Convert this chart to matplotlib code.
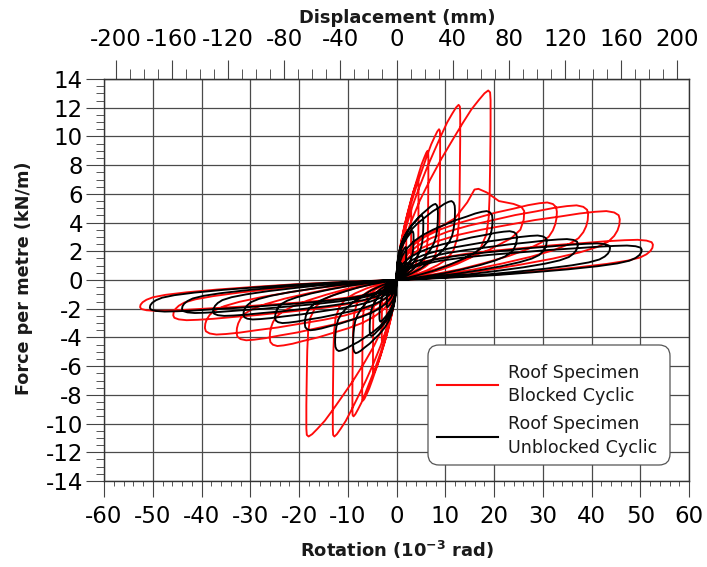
import numpy as np
import matplotlib
matplotlib.use('Agg')
import matplotlib.pyplot as plt
from matplotlib.lines import Line2D
from matplotlib.patches import FancyBboxPatch
from matplotlib.transforms import IdentityTransform
from matplotlib.ticker import MultipleLocator

plt.rcParams['font.family'] = ['DejaVu Sans']
plt.rcParams['axes.unicode_minus'] = False

# ---------------- data ----------------
# Red: Roof Specimen Blocked Cyclic  (cycle peaks, 10^-3 rad and kN/m)
red_pos_rot = [1.2, 2.0, 3.0, 4.5, 6.5, 8.9, 13.0, 19.2, 26.0, 32.9, 39.3, 45.8, 52.6]
red_pos_force = [2.2, 3.5, 5.0, 7.0, 9.0, 10.5, 12.2, 13.2, 6.4, 5.4, 5.2, 4.8, 2.8]
red_neg_rot = [-1.2, -2.0, -3.0, -4.8, -7.0, -9.0, -13.0, -18.4, -26.0, -32.8, -39.3, -45.8, -52.6]
red_neg_force = [-1.8, -3.0, -4.3, -6.5, -8.4, -9.5, -10.9, -10.9, -4.6, -4.2, -3.8, -2.8, -2.15]
red_shape = ['A', 'A', 'A', 'A', 'A', 'A', 'A', 'A', 'C', 'B', 'B', 'B', 'B']

# first post-peak red excursion (explicit trace)
red_c9_rot = [0, 1.5, 4, 8, 12, 14.5, 16.0, 16.8, 18.5, 21, 24, 25.6, 26.2, 26.1, 25.4, 23.5, 19, 13, 7, 2.5, 0]
red_c9_force = [0.05, 1.6, 2.7, 3.5, 4.3, 5.4, 6.3, 6.35, 6.1, 5.5, 5.3, 5.1, 4.8, 4.2, 3.5, 2.9, 2.1, 1.3, 0.65, 0.2, 0]

# Black: Roof Specimen Unblocked Cyclic
black_pos_rot = [1.0, 2.0, 3.5, 5.5, 8.5, 12.0, 19.7, 24.7, 30.8, 37.2, 43.8, 50.3]
black_pos_force = [1.2, 2.3, 3.4, 4.5, 5.3, 5.5, 4.8, 3.4, 3.1, 2.85, 2.55, 2.4]
black_neg_rot = [-1.0, -2.0, -3.5, -5.5, -8.9, -12.6, -18.8, -24.9, -31.4, -37.6, -44.0, -50.6]
black_neg_force = [-1.0, -1.9, -2.9, -3.9, -5.1, -4.95, -3.5, -3.0, -2.75, -2.5, -2.3, -2.2]

# loop shapes (fraction of peak rotation / force)
shapeA_u = [0, 0.03, 0.08, 0.15, 0.25, 0.36, 0.48, 0.6, 0.71, 0.8, 0.88, 0.94, 0.98, 1.0, 1.005,
            1.005, 1.0, 0.995, 0.985, 0.96, 0.9, 0.8, 0.65, 0.48, 0.3, 0.14, 0.04, 0.0]
shapeA_v = [0.02, 0.09, 0.2, 0.3, 0.42, 0.53, 0.64, 0.74, 0.83, 0.9, 0.95, 0.985, 1.0, 0.99, 0.95,
            0.8, 0.6, 0.45, 0.33, 0.24, 0.17, 0.12, 0.085, 0.055, 0.03, 0.015, 0.004, 0.0]
shapeB_u = [0, 0.01, 0.03, 0.06, 0.11, 0.18, 0.27, 0.38, 0.5, 0.62, 0.73, 0.82, 0.89, 0.94, 0.975, 0.995, 1.0,
            0.998, 0.99, 0.975, 0.95, 0.9, 0.82, 0.7, 0.55, 0.4, 0.25, 0.12, 0.04, 0.0]
shapeB_v = [0.03, 0.12, 0.24, 0.35, 0.46, 0.56, 0.65, 0.73, 0.8, 0.87, 0.92, 0.965, 0.99, 1.0, 0.98, 0.94, 0.88,
            0.8, 0.72, 0.64, 0.56, 0.48, 0.4, 0.31, 0.22, 0.14, 0.08, 0.035, 0.01, 0.0]

rot_ticks = list(range(-60, 61, 10))
force_ticks = list(range(-14, 15, 2))
disp_ticks = list(range(-200, 201, 40))
mm_per_mrad = 3.47


def half(rpk, fpk, shape):
    if shape == 'A':
        u, v = shapeA_u, shapeA_v
    else:
        u, v = shapeB_u, shapeB_v
    return [rpk * a for a in u], [fpk * b for b in v]


def trace(pos_r, pos_f, neg_r, neg_f, shapes):
    xs, ys = [0.0], [0.0]
    for i in range(len(pos_r)):
        s = shapes[i] if shapes is not None else 'B'
        if s == 'C':
            xs += red_c9_rot
            ys += red_c9_force
        else:
            a, b = half(pos_r[i], pos_f[i], s)
            xs += a
            ys += b
        s2 = 'A' if s == 'A' else 'B'
        a, b = half(neg_r[i], neg_f[i], s2)
        xs += a
        ys += b
    return xs, ys


W, H = 707, 567
fig = plt.figure(figsize=(W / 100, H / 100), dpi=100)
ax = fig.add_axes([104 / W, 1 - 481 / H, (689 - 104) / W, (481 - 79) / H])

rx, ry = trace(red_pos_rot, red_pos_force, red_neg_rot, red_neg_force, red_shape)
bx, by = trace(black_pos_rot, black_pos_force, black_neg_rot, black_neg_force, None)
ax.plot(rx, ry, color='#ff0a0a', lw=1.35, solid_joinstyle='round', zorder=3)
ax.plot(bx, by, color='#000000', lw=1.35, solid_joinstyle='round', zorder=4)

ax.set_xlim(-60, 60)
ax.set_ylim(-14, 14)
ax.set_xticks(rot_ticks)
ax.set_yticks(force_ticks)
ax.xaxis.set_minor_locator(MultipleLocator(2))
ax.yaxis.set_minor_locator(MultipleLocator(0.5))
ax.grid(True, which='major', color='#4a4a4a', lw=0.9)
ax.set_axisbelow(True)
for sp in ax.spines.values():
    sp.set_color('#333333')
    sp.set_linewidth(1.0)

ax.tick_params(axis='x', which='major', direction='out', length=11.5, width=0.8,
               color='#444444', labelsize=16.5, pad=6.0)
ax.tick_params(axis='x', which='minor', direction='out', length=3.8, width=0.7, color='#555555')
ax.tick_params(axis='y', which='major', direction='out', length=13, width=0.8,
               color='#444444', labelsize=16.5, pad=2.2)
ax.tick_params(axis='y', which='minor', direction='out', length=5.5, width=0.7, color='#555555')

top = ax.secondary_xaxis('top', functions=(lambda r: r * mm_per_mrad, lambda d: d / mm_per_mrad))
top.set_xticks(disp_ticks)
top.xaxis.set_minor_locator(MultipleLocator(10))
top.tick_params(axis='x', which='major', direction='out', length=13.7, width=0.8,
                color='#444444', labelsize=16.5, pad=6.5)
top.tick_params(axis='x', which='minor', direction='out', length=7, width=0.7, color='#555555')
top.spines['top'].set_color('#333333')

fig.text(397 / W, 1 - 22.7 / H, 'Displacement (mm)', ha='center', va='baseline',
         fontsize=12.9, fontweight='bold', color='#1a1a1a')
fig.text(397 / W, 1 - 557 / H, r'Rotation (10$^{\mathbf{-3}}$ rad)', ha='center', va='baseline',
         fontsize=12.9, fontweight='bold', color='#1a1a1a')
fig.text(24 / W, 1 - 278 / H, 'Force per metre (kN/m)', ha='center', va='center',
         rotation=90, fontsize=12.7, fontweight='bold', color='#1a1a1a')

# legend frame (rounded box) drawn in pixel coordinates
box = FancyBboxPatch((428, H - 465), 242, 120, boxstyle='round,pad=0,rounding_size=11',
                     transform=IdentityTransform(), facecolor='white', edgecolor='#555555',
                     linewidth=0.9, zorder=9)
fig.add_artist(box)

handles = [Line2D([], [], color='#ff0a0a', lw=1.5), Line2D([], [], color='#000000', lw=1.5)]
leg = ax.legend(handles, ['Roof Specimen\nBlocked Cyclic', 'Roof Specimen\nUnblocked Cyclic'],
                loc='upper left', bbox_to_anchor=(437 / W, 1 - 363.5 / H),
                bbox_transform=fig.transFigure, borderaxespad=0, borderpad=0,
                handlelength=3.5, handletextpad=0.55, labelspacing=0.6,
                fontsize=12.6, frameon=False)
for t in leg.get_texts():
    t.set_color('#1a1a1a')
    t.set_linespacing(1.38)
leg.remove()
fig.add_artist(leg)
leg.set_zorder(10)

fig.savefig('out.png', dpi=100)
